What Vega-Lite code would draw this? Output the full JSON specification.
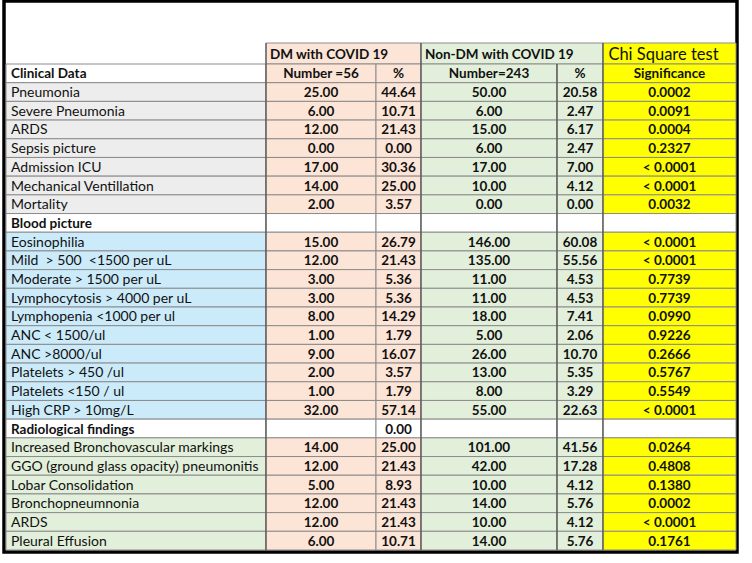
{
  "$schema": "https://vega.github.io/schema/vega-lite/v6.json",
  "width": 733,
  "height": 551,
  "autosize": "none",
  "padding": {"left": 4, "top": 1, "right": 15, "bottom": 11},
  "background": "white",
  "view": {"stroke": "#000000", "strokeWidth": 3.5},
  "config": {"font": "Lato"},
  "datasets": {
    "cells": [
      {"row": 1, "col": 1, "span": 2, "text": "DM with COVID 19", "kind": "dm"},
      {"row": 1, "col": 3, "span": 2, "text": "Non-DM with COVID 19", "kind": "non"},
      {"row": 1, "col": 5, "text": "Chi Square test", "kind": "chi"},

      {"row": 2, "col": 0, "text": "Clinical Data", "kind": "sec"},
      {"row": 2, "col": 1, "text": "Number =56", "kind": "dm"},
      {"row": 2, "col": 2, "text": "%", "kind": "dm"},
      {"row": 2, "col": 3, "text": "Number=243", "kind": "non"},
      {"row": 2, "col": 4, "text": "%", "kind": "non"},
      {"row": 2, "col": 5, "text": "Significance", "kind": "chi"},

      {"row": 3, "col": 0, "text": "Pneumonia", "kind": "clin"},
      {"row": 3, "col": 1, "text": "25.00", "kind": "dm"},
      {"row": 3, "col": 2, "text": "44.64", "kind": "dm"},
      {"row": 3, "col": 3, "text": "50.00", "kind": "non"},
      {"row": 3, "col": 4, "text": "20.58", "kind": "non"},
      {"row": 3, "col": 5, "text": "0.0002", "kind": "chi"},

      {"row": 4, "col": 0, "text": "Severe Pneumonia", "kind": "clin"},
      {"row": 4, "col": 1, "text": "6.00", "kind": "dm"},
      {"row": 4, "col": 2, "text": "10.71", "kind": "dm"},
      {"row": 4, "col": 3, "text": "6.00", "kind": "non"},
      {"row": 4, "col": 4, "text": "2.47", "kind": "non"},
      {"row": 4, "col": 5, "text": "0.0091", "kind": "chi"},

      {"row": 5, "col": 0, "text": "ARDS", "kind": "clin"},
      {"row": 5, "col": 1, "text": "12.00", "kind": "dm"},
      {"row": 5, "col": 2, "text": "21.43", "kind": "dm"},
      {"row": 5, "col": 3, "text": "15.00", "kind": "non"},
      {"row": 5, "col": 4, "text": "6.17", "kind": "non"},
      {"row": 5, "col": 5, "text": "0.0004", "kind": "chi"},

      {"row": 6, "col": 0, "text": "Sepsis picture", "kind": "clin"},
      {"row": 6, "col": 1, "text": "0.00", "kind": "dm"},
      {"row": 6, "col": 2, "text": "0.00", "kind": "dm"},
      {"row": 6, "col": 3, "text": "6.00", "kind": "non"},
      {"row": 6, "col": 4, "text": "2.47", "kind": "non"},
      {"row": 6, "col": 5, "text": "0.2327", "kind": "chi"},

      {"row": 7, "col": 0, "text": "Admission ICU", "kind": "clin"},
      {"row": 7, "col": 1, "text": "17.00", "kind": "dm"},
      {"row": 7, "col": 2, "text": "30.36", "kind": "dm"},
      {"row": 7, "col": 3, "text": "17.00", "kind": "non"},
      {"row": 7, "col": 4, "text": "7.00", "kind": "non"},
      {"row": 7, "col": 5, "text": "< 0.0001", "kind": "chi"},

      {"row": 8, "col": 0, "text": "Mechanical Ventillation", "kind": "clin"},
      {"row": 8, "col": 1, "text": "14.00", "kind": "dm"},
      {"row": 8, "col": 2, "text": "25.00", "kind": "dm"},
      {"row": 8, "col": 3, "text": "10.00", "kind": "non"},
      {"row": 8, "col": 4, "text": "4.12", "kind": "non"},
      {"row": 8, "col": 5, "text": "< 0.0001", "kind": "chi"},

      {"row": 9, "col": 0, "text": "Mortality", "kind": "clin"},
      {"row": 9, "col": 1, "text": "2.00", "kind": "dm"},
      {"row": 9, "col": 2, "text": "3.57", "kind": "dm"},
      {"row": 9, "col": 3, "text": "0.00", "kind": "non"},
      {"row": 9, "col": 4, "text": "0.00", "kind": "non"},
      {"row": 9, "col": 5, "text": "0.0032", "kind": "chi"},

      {"row": 10, "col": 0, "text": "Blood picture", "kind": "sec"},
      {"row": 10, "col": 1, "text": "", "kind": "sec"},
      {"row": 10, "col": 2, "text": "", "kind": "sec"},
      {"row": 10, "col": 3, "text": "", "kind": "sec"},
      {"row": 10, "col": 4, "text": "", "kind": "sec"},
      {"row": 10, "col": 5, "text": "", "kind": "sec"},

      {"row": 11, "col": 0, "text": "Eosinophilia", "kind": "blood"},
      {"row": 11, "col": 1, "text": "15.00", "kind": "dm"},
      {"row": 11, "col": 2, "text": "26.79", "kind": "dm"},
      {"row": 11, "col": 3, "text": "146.00", "kind": "non"},
      {"row": 11, "col": 4, "text": "60.08", "kind": "non"},
      {"row": 11, "col": 5, "text": "< 0.0001", "kind": "chi"},

      {"row": 12, "col": 0, "text": "Mild \u00a0> 500 \u00a0<1500 per uL", "kind": "blood"},
      {"row": 12, "col": 1, "text": "12.00", "kind": "dm"},
      {"row": 12, "col": 2, "text": "21.43", "kind": "dm"},
      {"row": 12, "col": 3, "text": "135.00", "kind": "non"},
      {"row": 12, "col": 4, "text": "55.56", "kind": "non"},
      {"row": 12, "col": 5, "text": "< 0.0001", "kind": "chi"},

      {"row": 13, "col": 0, "text": "Moderate > 1500 per uL", "kind": "blood"},
      {"row": 13, "col": 1, "text": "3.00", "kind": "dm"},
      {"row": 13, "col": 2, "text": "5.36", "kind": "dm"},
      {"row": 13, "col": 3, "text": "11.00", "kind": "non"},
      {"row": 13, "col": 4, "text": "4.53", "kind": "non"},
      {"row": 13, "col": 5, "text": "0.7739", "kind": "chi"},

      {"row": 14, "col": 0, "text": "Lymphocytosis > 4000 per uL", "kind": "blood"},
      {"row": 14, "col": 1, "text": "3.00", "kind": "dm"},
      {"row": 14, "col": 2, "text": "5.36", "kind": "dm"},
      {"row": 14, "col": 3, "text": "11.00", "kind": "non"},
      {"row": 14, "col": 4, "text": "4.53", "kind": "non"},
      {"row": 14, "col": 5, "text": "0.7739", "kind": "chi"},

      {"row": 15, "col": 0, "text": "Lymphopenia <1000 per ul", "kind": "blood"},
      {"row": 15, "col": 1, "text": "8.00", "kind": "dm"},
      {"row": 15, "col": 2, "text": "14.29", "kind": "dm"},
      {"row": 15, "col": 3, "text": "18.00", "kind": "non"},
      {"row": 15, "col": 4, "text": "7.41", "kind": "non"},
      {"row": 15, "col": 5, "text": "0.0990", "kind": "chi"},

      {"row": 16, "col": 0, "text": "ANC < 1500/ul", "kind": "blood"},
      {"row": 16, "col": 1, "text": "1.00", "kind": "dm"},
      {"row": 16, "col": 2, "text": "1.79", "kind": "dm"},
      {"row": 16, "col": 3, "text": "5.00", "kind": "non"},
      {"row": 16, "col": 4, "text": "2.06", "kind": "non"},
      {"row": 16, "col": 5, "text": "0.9226", "kind": "chi"},

      {"row": 17, "col": 0, "text": "ANC >8000/ul", "kind": "blood"},
      {"row": 17, "col": 1, "text": "9.00", "kind": "dm"},
      {"row": 17, "col": 2, "text": "16.07", "kind": "dm"},
      {"row": 17, "col": 3, "text": "26.00", "kind": "non"},
      {"row": 17, "col": 4, "text": "10.70", "kind": "non"},
      {"row": 17, "col": 5, "text": "0.2666", "kind": "chi"},

      {"row": 18, "col": 0, "text": "Platelets > 450 /ul", "kind": "blood"},
      {"row": 18, "col": 1, "text": "2.00", "kind": "dm"},
      {"row": 18, "col": 2, "text": "3.57", "kind": "dm"},
      {"row": 18, "col": 3, "text": "13.00", "kind": "non"},
      {"row": 18, "col": 4, "text": "5.35", "kind": "non"},
      {"row": 18, "col": 5, "text": "0.5767", "kind": "chi"},

      {"row": 19, "col": 0, "text": "Platelets <150 / ul", "kind": "blood"},
      {"row": 19, "col": 1, "text": "1.00", "kind": "dm"},
      {"row": 19, "col": 2, "text": "1.79", "kind": "dm"},
      {"row": 19, "col": 3, "text": "8.00", "kind": "non"},
      {"row": 19, "col": 4, "text": "3.29", "kind": "non"},
      {"row": 19, "col": 5, "text": "0.5549", "kind": "chi"},

      {"row": 20, "col": 0, "text": "High CRP > 10mg/L", "kind": "blood"},
      {"row": 20, "col": 1, "text": "32.00", "kind": "dm"},
      {"row": 20, "col": 2, "text": "57.14", "kind": "dm"},
      {"row": 20, "col": 3, "text": "55.00", "kind": "non"},
      {"row": 20, "col": 4, "text": "22.63", "kind": "non"},
      {"row": 20, "col": 5, "text": "< 0.0001", "kind": "chi"},

      {"row": 21, "col": 0, "text": "Radiological findings", "kind": "sec"},
      {"row": 21, "col": 1, "text": "", "kind": "sec"},
      {"row": 21, "col": 2, "text": "0.00", "kind": "sec"},
      {"row": 21, "col": 3, "text": "", "kind": "sec"},
      {"row": 21, "col": 4, "text": "", "kind": "sec"},
      {"row": 21, "col": 5, "text": "", "kind": "sec"},

      {"row": 22, "col": 0, "text": "Increased Bronchovascular markings", "kind": "radio"},
      {"row": 22, "col": 1, "text": "14.00", "kind": "dm"},
      {"row": 22, "col": 2, "text": "25.00", "kind": "dm"},
      {"row": 22, "col": 3, "text": "101.00", "kind": "non"},
      {"row": 22, "col": 4, "text": "41.56", "kind": "non"},
      {"row": 22, "col": 5, "text": "0.0264", "kind": "chi"},

      {"row": 23, "col": 0, "text": "GGO (ground glass opacity) pneumonitis", "kind": "radio"},
      {"row": 23, "col": 1, "text": "12.00", "kind": "dm"},
      {"row": 23, "col": 2, "text": "21.43", "kind": "dm"},
      {"row": 23, "col": 3, "text": "42.00", "kind": "non"},
      {"row": 23, "col": 4, "text": "17.28", "kind": "non"},
      {"row": 23, "col": 5, "text": "0.4808", "kind": "chi"},

      {"row": 24, "col": 0, "text": "Lobar Consolidation", "kind": "radio"},
      {"row": 24, "col": 1, "text": "5.00", "kind": "dm"},
      {"row": 24, "col": 2, "text": "8.93", "kind": "dm"},
      {"row": 24, "col": 3, "text": "10.00", "kind": "non"},
      {"row": 24, "col": 4, "text": "4.12", "kind": "non"},
      {"row": 24, "col": 5, "text": "0.1380", "kind": "chi"},

      {"row": 25, "col": 0, "text": "Bronchopneumnonia", "kind": "radio"},
      {"row": 25, "col": 1, "text": "12.00", "kind": "dm"},
      {"row": 25, "col": 2, "text": "21.43", "kind": "dm"},
      {"row": 25, "col": 3, "text": "14.00", "kind": "non"},
      {"row": 25, "col": 4, "text": "5.76", "kind": "non"},
      {"row": 25, "col": 5, "text": "0.0002", "kind": "chi"},

      {"row": 26, "col": 0, "text": "ARDS", "kind": "radio"},
      {"row": 26, "col": 1, "text": "12.00", "kind": "dm"},
      {"row": 26, "col": 2, "text": "21.43", "kind": "dm"},
      {"row": 26, "col": 3, "text": "10.00", "kind": "non"},
      {"row": 26, "col": 4, "text": "4.12", "kind": "non"},
      {"row": 26, "col": 5, "text": "< 0.0001", "kind": "chi"},

      {"row": 27, "col": 0, "text": "Pleural Effusion", "kind": "radio"},
      {"row": 27, "col": 1, "text": "6.00", "kind": "dm"},
      {"row": 27, "col": 2, "text": "10.71", "kind": "dm"},
      {"row": 27, "col": 3, "text": "14.00", "kind": "non"},
      {"row": 27, "col": 4, "text": "5.76", "kind": "non"},
      {"row": 27, "col": 5, "text": "0.1761", "kind": "chi"}
    ],
    "dividers": [
      {"col": 1, "top": 1},
      {"col": 3, "top": 1},
      {"col": 4, "top": 2},
      {"col": 5, "top": 1}
    ]
  },
  "data": {"name": "cells"},
  "transform": [
    {"calculate": "datum.col + (datum.span ? datum.span : 1)", "as": "colEnd"},
    {"calculate": "datum.row + 1", "as": "rowEnd"},
    {"calculate": "datum.col + 0.5", "as": "colMid"},
    {"calculate": "datum.row + 0.5", "as": "rowMid"}
  ],
  "layer": [
    {
      "mark": {"type": "rect", "stroke": "#8c8c8c", "strokeWidth": 1},
      "encoding": {
        "x": {"field": "col", "type": "quantitative", "scale": {"domain": [0, 1, 2, 3, 4, 5, 6], "range": [2, 262, 372, 417, 553, 599, 732], "nice": false, "zero": false}, "axis": null},
        "x2": {"field": "colEnd"},
        "y": {"field": "row", "type": "quantitative", "scale": {"domain": [1, 2, 28], "range": [42, 63, 549], "nice": false, "zero": false}, "axis": null},
        "y2": {"field": "rowEnd"},
        "fill": {"field": "kind", "type": "nominal", "scale": {"domain": ["dm", "non", "chi", "clin", "blood", "radio", "sec"], "range": ["#FCE4D6", "#E2EFDA", "#FFFF00", "#EDEDED", "#CCEBFA", "#E2EFDA", "#FFFFFF"]}, "legend": null}
      }
    },
    {
      "data": {"name": "dividers"},
      "transform": [],
      "mark": {"type": "rule", "stroke": "#404040", "strokeWidth": 1},
      "encoding": {
        "x": {"field": "col", "type": "quantitative"},
        "y": {"field": "top", "type": "quantitative"},
        "y2": {"datum": 28}
      }
    },
    {
      "transform": [{"filter": "datum.col == 0 && datum.kind != 'sec'"}],
      "mark": {"type": "text", "align": "left", "baseline": "middle", "dx": 5, "dy": 1, "fontSize": 14, "color": "#111111"},
      "encoding": {
        "x": {"field": "col", "type": "quantitative"},
        "y": {"field": "rowMid", "type": "quantitative"},
        "text": {"field": "text"}
      }
    },
    {
      "transform": [{"filter": "datum.col == 0 && datum.kind == 'sec'"}],
      "mark": {"type": "text", "align": "left", "baseline": "middle", "dx": 5, "dy": 1, "fontSize": 13.5, "fontWeight": "bold", "color": "#111111"},
      "encoding": {
        "x": {"field": "col", "type": "quantitative"},
        "y": {"field": "rowMid", "type": "quantitative"},
        "text": {"field": "text"}
      }
    },
    {
      "transform": [{"filter": "datum.row == 1 && datum.col < 5"}],
      "mark": {"type": "text", "align": "left", "baseline": "middle", "dx": 4, "dy": 1, "fontSize": 13.5, "fontWeight": "bold", "color": "#111111"},
      "encoding": {
        "x": {"field": "col", "type": "quantitative"},
        "y": {"field": "rowMid", "type": "quantitative"},
        "text": {"field": "text"}
      }
    },
    {
      "transform": [{"filter": "datum.row == 1 && datum.col == 5"}],
      "mark": {"type": "text", "align": "center", "baseline": "middle", "dx": -6, "dy": 1, "fontSize": 16.5, "color": "#111111"},
      "encoding": {
        "x": {"field": "colMid", "type": "quantitative"},
        "y": {"field": "rowMid", "type": "quantitative"},
        "text": {"field": "text"}
      }
    },
    {
      "transform": [{"filter": "datum.row >= 2 && datum.col >= 1"}],
      "mark": {"type": "text", "align": "center", "baseline": "middle", "dy": 1, "fontSize": 13.5, "fontWeight": "bold", "color": "#111111"},
      "encoding": {
        "x": {"field": "colMid", "type": "quantitative"},
        "y": {"field": "rowMid", "type": "quantitative"},
        "text": {"field": "text"}
      }
    }
  ]
}
